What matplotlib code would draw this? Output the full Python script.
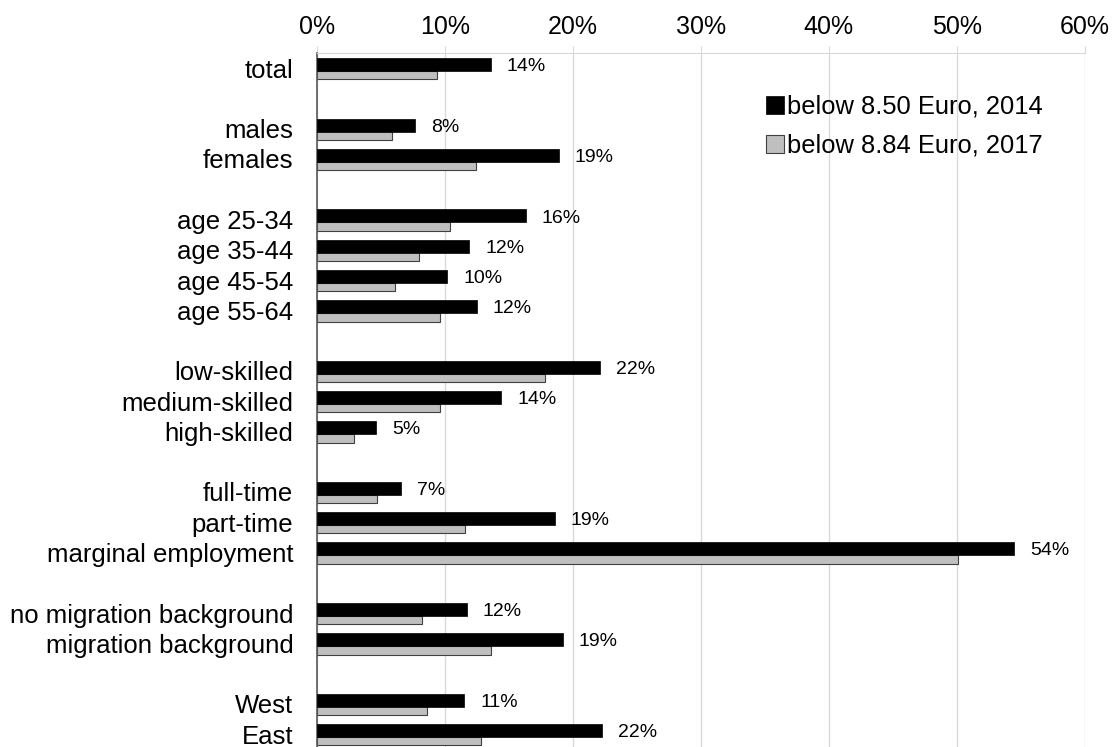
import matplotlib.pyplot as plt
import numpy as np

plt.rcParams['font.family'] = ['Liberation Sans', 'DejaVu Sans']

# rows top to bottom; empty strings are spacer rows between groups
categories = ['total', '',
              'males', 'females', '',
              'age 25-34', 'age 35-44', 'age 45-54', 'age 55-64', '',
              'low-skilled', 'medium-skilled', 'high-skilled', '',
              'full-time', 'part-time', 'marginal employment', '',
              'no migration background', 'migration background', '',
              'West', 'East']
share_2014 = [13.6, None,
              7.7, 18.9, None,
              16.3, 11.9, 10.2, 12.5, None,
              22.1, 14.4, 4.6, None,
              6.6, 18.6, 54.5, None,
              11.7, 19.2, None,
              11.5, 22.3]
share_2017 = [9.4, None,
              5.9, 12.4, None,
              10.4, 8.0, 6.1, 9.6, None,
              17.8, 9.6, 2.9, None,
              4.7, 11.6, 50.1, None,
              8.2, 13.6, None,
              8.6, 12.8]
labels_2014 = ['14%', '',
               '8%', '19%', '',
               '16%', '12%', '10%', '12%', '',
               '22%', '14%', '5%', '',
               '7%', '19%', '54%', '',
               '12%', '19%', '',
               '11%', '22%']

fig = plt.figure(figsize=(11.16, 7.47), dpi=100)
ax = fig.add_axes([0.284, -0.003, 0.688, 0.932])

y = np.arange(len(categories))
rows = [i for i, v in enumerate(share_2014) if v is not None]
v14 = np.array([share_2014[i] for i in rows])
v17 = np.array([share_2017[i] for i in rows])
yr = y[rows]

ax.barh(yr + 0.23, v17, height=0.285, color='#BFBFBF', edgecolor='#404040',
        linewidth=0.8, label='below 8.84 Euro, 2017', zorder=2)
ax.barh(yr - 0.12, v14, height=0.43, color='black', edgecolor='black',
        linewidth=0.5, label='below 8.50 Euro, 2014', zorder=3)

for yy, v, i in zip(yr, v14, rows):
    ax.text(v + 1.25, yy - 0.05, labels_2014[i], va='center', ha='left',
            fontsize=14)

ax.set_xlim(0, 60)
ax.set_ylim(len(categories) - 0.5, -0.5)
ax.set_xticks(np.arange(0, 61, 10))
ax.set_xticklabels([f'{t}%' for t in range(0, 61, 10)])
ax.xaxis.tick_top()
ax.tick_params(axis='x', labelsize=18, length=5, color='#D9D9D9', pad=5)
ax.set_yticks(y)
ax.set_yticklabels(categories, fontsize=18.5)
ax.tick_params(axis='y', length=0, pad=17)
ax.grid(axis='x', color='#D9D9D9', linewidth=1, zorder=0)
ax.set_axisbelow(True)

for s in ['right', 'bottom']:
    ax.spines[s].set_visible(False)
ax.spines['top'].set_color('#D9D9D9')
ax.spines['left'].set_color('#595959')
ax.spines['left'].set_linewidth(1.2)

h, l = ax.get_legend_handles_labels()
ax.legend(h[::-1], l[::-1], loc='upper left', bbox_to_anchor=(0.677, 0.887),
          bbox_transform=fig.transFigure, frameon=False, fontsize=18.4,
          handlelength=0.7, handleheight=0.7, handletextpad=0.15,
          labelspacing=0.6, borderaxespad=0)

fig.savefig('out.png', dpi=100, facecolor='white')
